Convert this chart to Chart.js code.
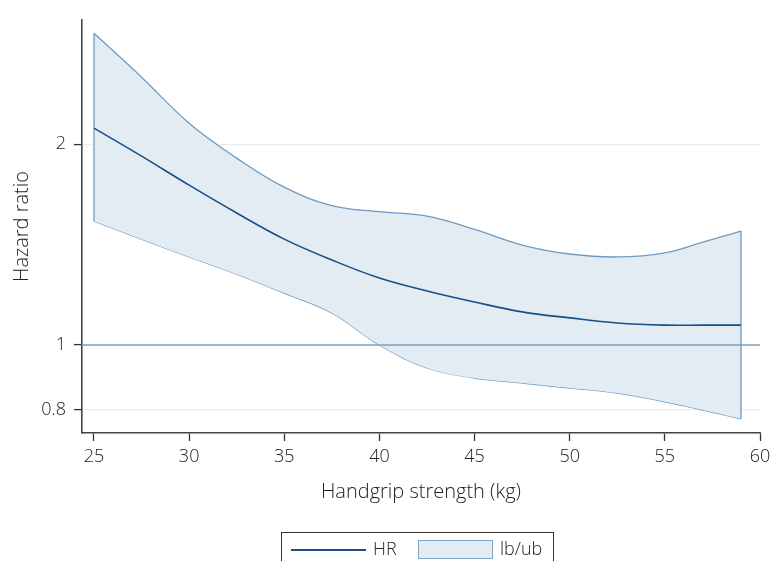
<!DOCTYPE html>
<html>
<head>
<meta charset="utf-8">
<script src="https://cdn.jsdelivr.net/npm/chart.js@4.4.1/dist/chart.umd.min.js"></script>
<style>
  html, body { margin: 0; padding: 0; background: #fff; }
  #wrap { position: relative; width: 772px; height: 561px; overflow: hidden; font-family: "Open Sans", sans-serif; font-weight: 300; color: #222; }
  #legend { position: absolute; left: 281px; top: 532px; width: 271px; height: 40px; border: 1px solid #333; font-size: 18px; }
  #legend .ln { position: absolute; left: 9px; top: 16px; width: 75px; height: 2px; background: #174f88; }
  #legend .bx { position: absolute; left: 136px; top: 7px; width: 73px; height: 17px; border: 1.5px solid #7fa6c9; background: #e4ecf3; }
  #legend .t1 { position: absolute; left: 91px; top: 3px; }
  #legend .t2 { position: absolute; left: 218px; top: 3px; }
</style>
</head>
<body>
<div id="wrap">
  <canvas id="myChart" width="772" height="561"></canvas>
  <div id="legend">
    <span class="ln"></span><span class="t1">HR</span>
    <span class="bx"></span><span class="t2">lb/ub</span>
  </div>
</div>
<script>
// values
const grip = [25, 27.5, 30, 32.5, 35, 37.5, 40, 42.5, 45, 47.5, 50, 52.5, 55, 57, 59]
const hr   = [2.114, 1.919, 1.736, 1.577, 1.441, 1.341, 1.260, 1.205, 1.160, 1.121, 1.098, 1.079, 1.071, 1.071, 1.071]
const ub   = [2.933, 2.520, 2.150, 1.906, 1.724, 1.618, 1.584, 1.560, 1.490, 1.412, 1.369, 1.355, 1.374, 1.426, 1.482]
const lb   = [1.533, 1.441, 1.355, 1.277, 1.196, 1.117, 1.0, 0.924, 0.892, 0.877, 0.862, 0.847, 0.822, 0.799, 0.775]
const xTicks = [25, 30, 35, 40, 45, 50, 55, 60]
const yTicks = [0.8, 1, 2]
const refValue = 1
const xMin = 24.37, xMax = 60
const yMin = 0.738, yMax = 3.07

const pts = (arr) => grip.map((x, i) => ({x: x, y: arr[i]}))
const last = grip.length - 1
const edges = [
    {x: grip[0], y: lb[0]}, {x: grip[0], y: ub[0]}, {x: grip[0], y: null},
    {x: grip[last], y: ub[last]}, {x: grip[last], y: lb[last]}
]

const bandLine = '#6d9bc4'
const smooth = 0.4
const tickFont = {family: '"Open Sans", sans-serif', size: 18, weight: 300}
const titleFont = {family: '"Open Sans", sans-serif', size: 20, weight: 300}

const ctx = document.getElementById('myChart').getContext('2d')
const config = {
    type: 'line',
    data: {
        datasets: [
            {data: pts(hr), borderColor: '#174f88', borderWidth: 1.6, pointRadius: 0, tension: smooth, fill: false},
            {data: [{x: xMin, y: refValue}, {x: xMax, y: refValue}], borderColor: '#7f9fbd', borderWidth: 1.3, pointRadius: 0, fill: false},
            {data: edges, borderColor: bandLine, borderWidth: 1.3, pointRadius: 0, tension: 0, spanGaps: false, fill: false},
            {data: pts(ub), borderColor: bandLine, borderWidth: 1.3, pointRadius: 0, tension: smooth, fill: '+1', backgroundColor: '#e4ecf3'},
            {data: pts(lb), borderColor: bandLine, borderWidth: 1.3, pointRadius: 0, tension: smooth, fill: false}
        ]
    },
    options: {
        responsive: false,
        animation: false,
        layout: {padding: {top: 20, right: 12, left: 0, bottom: 0}},
        plugins: {legend: {display: false}, tooltip: {enabled: false}},
        scales: {
            x: {
                type: 'linear',
                min: xMin,
                max: xMax,
                afterBuildTicks: (s) => { s.ticks = xTicks.map(v => ({value: v})) },
                afterFit: (s) => { s.height = 128; s.paddingRight = 0; s.paddingLeft = 0 },
                grid: {drawOnChartArea: false, tickLength: 8, tickColor: '#333', tickWidth: 1.3},
                border: {color: '#444', width: 1.6},
                ticks: {font: tickFont, color: '#222', padding: 5, maxRotation: 0},
                title: {display: true, text: 'Handgrip strength (kg)', font: titleFont, color: '#222', padding: {top: 0, bottom: 57}}
            },
            y: {
                type: 'logarithmic',
                bounds: 'data',
                min: yMin,
                max: yMax,
                afterBuildTicks: (s) => { s.ticks = yTicks.map(v => ({value: v})) },
                afterFit: (s) => { s.width = 82; s.paddingTop = 0; s.paddingBottom = 0 },
                grid: {
                    color: (c) => c.tick && c.tick.value === refValue ? 'rgba(0,0,0,0)' : '#e6edf3',
                    lineWidth: 1.2, tickLength: 8, tickColor: '#333', tickWidth: 1.3
                },
                border: {color: '#444', width: 1.6},
                ticks: {font: tickFont, color: '#222', padding: 8, callback: (v) => String(v)},
                title: {display: true, text: 'Hazard ratio', font: titleFont, color: '#222', padding: {top: 10, bottom: 0}}
            }
        }
    }
}
const myChart = new Chart(ctx, config)
</script>
</body>
</html>
